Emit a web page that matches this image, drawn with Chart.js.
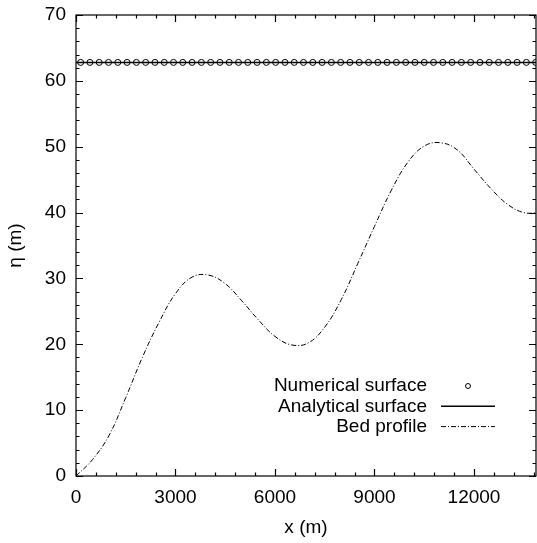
<!DOCTYPE html>
<html>
<head>
<meta charset="utf-8">
<script src="https://cdn.jsdelivr.net/npm/chart.js@4/dist/chart.umd.min.js"></script>
<style>
  body { margin: 0; background: #fff; }
  canvas { display: block; }
</style>
</head>
<body>
<canvas id="mychart" width="537" height="543"></canvas>
<script>
// numerical solution, cell centres (m) and surface level (m)
const numX = [140, 420, 700, 980, 1260, 1540, 1820, 2100, 2380, 2660,
  2940, 3220, 3500, 3780, 4060, 4340, 4620, 4900, 5180, 5460,
  5740, 6020, 6300, 6580, 6860, 7140, 7420, 7700, 7980, 8260,
  8540, 8820, 9100, 9380, 9660, 9940, 10220, 10500, 10780, 11060,
  11340, 11620, 11900, 12180, 12460, 12740, 13020, 13300, 13580, 13860];
const numY = [62.8, 62.8, 62.8, 62.8, 62.8, 62.8, 62.8, 62.8, 62.8, 62.8,
  62.8, 62.8, 62.8, 62.8, 62.8, 62.8, 62.8, 62.8, 62.8, 62.8,
  62.8, 62.8, 62.8, 62.8, 62.8, 62.8, 62.8, 62.8, 62.8, 62.8,
  62.8, 62.8, 62.8, 62.8, 62.8, 62.8, 62.8, 62.8, 62.8, 62.8,
  62.8, 62.8, 62.8, 62.8, 62.8, 62.8, 62.8, 62.8, 62.8, 62.8];

// analytical surface
const anaX = [0, 14000];
const anaY = [62.8, 62.8];

// bed profile
const bedX = [0, 500, 1000, 1500, 2000, 2500, 3000, 3500, 4000, 4500,
  5000, 5500, 6000, 6500, 7000, 7500, 8000, 8500, 9000, 9500,
  10000, 10500, 11000, 11500, 12000, 12500, 13000, 13500, 14000];
const bedY = [0.0, 2.5, 6.2, 11.9, 18.0, 23.3, 27.7, 30.2, 30.5, 29.2,
  26.6, 23.7, 21.2, 19.9, 20.2, 22.6, 26.8, 32.3, 37.9, 43.3,
  47.6, 50.1, 50.6, 49.5, 46.6, 43.7, 41.3, 40.0, 40.0];

const labels = ["Numerical surface", "Analytical surface", "Bed profile"];

function pts(xs, ys) {
    return xs.map(function(x, i) { return {x: x, y: ys[i]}; });
}

const FONT = "Liberation Sans, Arial, Helvetica, sans-serif";

// gnuplot style frame with inward ticks on all four sides
const frame = {
    id: 'frame',
    afterDatasetsDraw(chart) {
        const ctx = chart.ctx;
        const a = chart.chartArea;
        const xs = chart.scales.x, ys = chart.scales.y;
        ctx.save();
        ctx.strokeStyle = '#000';
        ctx.lineWidth = 1.2;
        ctx.strokeRect(a.left, a.top, a.right - a.left, a.bottom - a.top);
        ctx.beginPath();
        xs.ticks.forEach(function(t) {
            const px = Math.round(xs.getPixelForValue(t.value)) + 0.5;
            const len = t.value % 3000 === 0 ? 7 : 3.5;
            ctx.moveTo(px, a.bottom); ctx.lineTo(px, a.bottom - len);
            ctx.moveTo(px, a.top); ctx.lineTo(px, a.top + len);
        });
        ys.ticks.forEach(function(t) {
            const py = Math.round(ys.getPixelForValue(t.value)) + 0.5;
            const len = t.value % 10 === 0 ? 7 : 3.5;
            ctx.moveTo(a.left, py); ctx.lineTo(a.left + len, py);
            ctx.moveTo(a.right, py); ctx.lineTo(a.right - len, py);
        });
        ctx.stroke();
        ctx.restore();
    },
    afterDraw(chart) {
        // key, text right aligned with sample on its right
        const ctx = chart.ctx;
        ctx.save();
        ctx.font = '19px ' + FONT;
        ctx.textAlign = 'right';
        ctx.textBaseline = 'middle';
        ctx.fillStyle = '#000';
        chart.data.datasets.forEach(function(ds, i) {
            const y = 386 + i * 20.3;
            ctx.fillText(ds.label, 427, y);
            ctx.strokeStyle = '#000';
            if (ds.showLine === false) {
                ctx.lineWidth = 1;
                ctx.beginPath();
                ctx.arc(468, y, 2.5, 0, Math.PI * 2);
                ctx.stroke();
            } else {
                ctx.lineWidth = ds.borderWidth;
                ctx.setLineDash(ds.borderDash || []);
                ctx.beginPath();
                ctx.moveTo(441, y);
                ctx.lineTo(495, y);
                ctx.stroke();
                ctx.setLineDash([]);
            }
        });
        ctx.restore();
    }
};

const ctx = document.getElementById('mychart');

const myChart = new Chart(ctx, {
    type: 'scatter',
    data: {
        datasets: [{
            label: labels[0],
            data: pts(numX, numY),
            showLine: false,
            pointStyle: 'circle',
            pointRadius: 3,
            pointBorderWidth: 1,
            pointBorderColor: '#000',
            pointBackgroundColor: 'rgba(0,0,0,0)',
            order: 0
        }, {
            label: labels[1],
            data: pts(anaX, anaY),
            showLine: true,
            borderColor: '#000',
            borderWidth: 1.5,
            pointRadius: 0,
            order: 1
        }, {
            label: labels[2],
            data: pts(bedX, bedY),
            showLine: true,
            borderColor: '#000',
            borderWidth: 1,
            borderDash: [5, 2, 1, 2],
            tension: 0.4,
            pointRadius: 0,
            order: 2
        }]
    },
    options: {
        responsive: false,
        animation: false,
        layout: { autoPadding: false, padding: { top: 15, right: 1, left: 0, bottom: 0 } },
        plugins: {
            legend: { display: false },
            tooltip: { enabled: false }
        },
        scales: {
            x: {
                type: 'linear',
                min: 0,
                max: 13870,
                afterBuildTicks: function(scale) {
                    const t = [];
                    for (let v = 0; v <= scale.max; v += 600) t.push({value: v});
                    scale.ticks = t;
                },
                afterFit: function(scale) {
                    scale.height = 67;
                    scale.paddingLeft = 0;
                    scale.paddingRight = 0;
                },
                grid: { display: true, drawOnChartArea: false, drawTicks: false },
                border: { display: false },
                ticks: {
                    autoSkip: false,
                    maxRotation: 0,
                    padding: 10,
                    color: '#000',
                    font: { family: FONT, size: 19 },
                    callback: function(v) { return v % 3000 === 0 ? v : ''; }
                },
                title: {
                    display: true,
                    text: 'x (m)',
                    color: '#000',
                    font: { family: FONT, size: 19 },
                    padding: { top: 4, bottom: 4 }
                }
            },
            y: {
                type: 'linear',
                min: 0,
                max: 70,
                afterBuildTicks: function(scale) {
                    const t = [];
                    for (let v = 0; v <= 70; v += 2) t.push({value: v});
                    scale.ticks = t;
                },
                afterFit: function(scale) {
                    scale.width = 76;
                    scale.paddingTop = 0;
                    scale.paddingBottom = 0;
                },
                grid: { display: true, drawOnChartArea: false, drawTicks: false },
                border: { display: false },
                ticks: {
                    autoSkip: false,
                    padding: 10,
                    color: '#000',
                    font: { family: FONT, size: 19 },
                    callback: function(v) { return v % 10 === 0 ? v : ''; }
                },
                title: {
                    display: true,
                    text: 'η (m)',
                    color: '#000',
                    font: { family: FONT, size: 19 },
                    padding: { top: 4, bottom: 4 }
                }
            }
        }
    },
    plugins: [frame]
});
</script>
</body>
</html>
